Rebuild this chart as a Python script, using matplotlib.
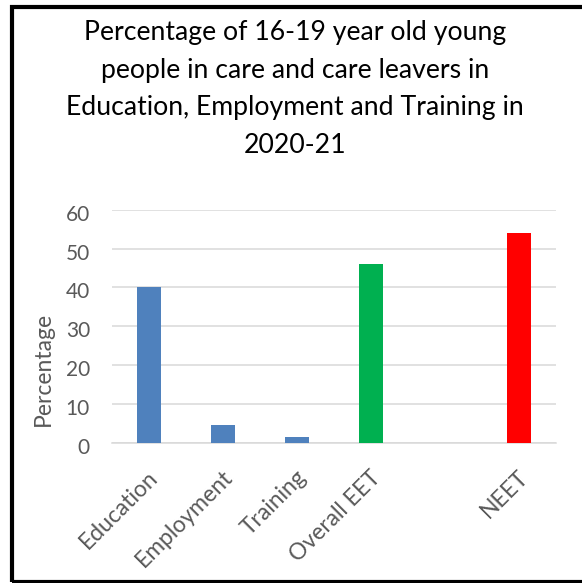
import matplotlib
matplotlib.use('Agg')
import matplotlib.pyplot as plt
import matplotlib.transforms as mtransforms
from matplotlib.patches import Rectangle
import numpy as np

categories = ['Education', 'Employment', 'Training', 'Overall EET', '', 'NEET']
values = [40, 4.6, 1.5, 46, np.nan, 54]
bar_colors = ['#4F81BD', '#4F81BD', '#4F81BD', '#00B050', '#4F81BD', '#FF0000']
yticks = [0, 10, 20, 30, 40, 50, 60]
title = ('Percentage of 16-19 year old young\n'
         'people in care and care leavers in\n'
         'Education, Employment and Training in\n'
         '2020-21')
ylabel = 'Percentage'

plt.rcParams['font.family'] = ['Lato', 'DejaVu Sans']

W, H = 582, 583
fig = plt.figure(figsize=(W / 100, H / 100), dpi=100)
fig.patch.set_facecolor('white')


def fx(px):
    return px / W


def fy(py):
    return 1 - py / H


# border
fig.patches.append(Rectangle((fx(12), fy(581.5)), 1.0, fy(6.5) - fy(581.5),
                             transform=fig.transFigure, fill=False,
                             edgecolor='black', linewidth=3, zorder=0))

ax = fig.add_axes([fx(112), fy(443), (556 - 112) / W, (443 - 209.7) / H])
x = np.arange(len(categories))
ax.bar(x, values, width=0.324, color=bar_colors, zorder=3)
ax.set_xlim(-0.5, len(categories) - 0.5)
ax.set_ylim(0, 60)
ax.set_yticks(yticks)
ax.set_yticklabels([])
ax.set_xticks(x)
ax.set_xticklabels([])
ax.tick_params(length=0)
ax.yaxis.grid(True, color='#D9D9D9', linewidth=1.1, zorder=0)
for s in ['top', 'right', 'left']:
    ax.spines[s].set_visible(False)
ax.spines['bottom'].set_color('#D9D9D9')
ax.spines['bottom'].set_linewidth(1.1)
ax.spines['bottom'].set_zorder(1)

gray = '#595959'
# y tick labels
ytr = ax.get_yaxis_transform() + mtransforms.ScaledTranslation(-22 / 100, -5 / 100, fig.dpi_scale_trans)
for v in yticks:
    ax.text(0, v, str(v), transform=ytr, ha='right', va='center',
            fontsize=15, color=gray)

# x tick labels
xtr = ax.get_xaxis_transform() + mtransforms.ScaledTranslation(6 / 100, -31 / 100, fig.dpi_scale_trans)
for xi, lab in zip(x, categories):
    ax.text(xi, 0, lab, transform=xtr, ha='right', va='center', rotation=45,
            rotation_mode='anchor', fontsize=16.5, color=gray)

fig.text(fx(43), fy(368.5), ylabel, rotation=90, ha='center', va='center',
         fontsize=16.5, color=gray)

fig.text(fx(295), fy(153), title, ha='center', va='baseline', fontsize=19.2,
         color='black', linespacing=1.63, multialignment='center')

fig.savefig('out.png', dpi=100, facecolor='white')
